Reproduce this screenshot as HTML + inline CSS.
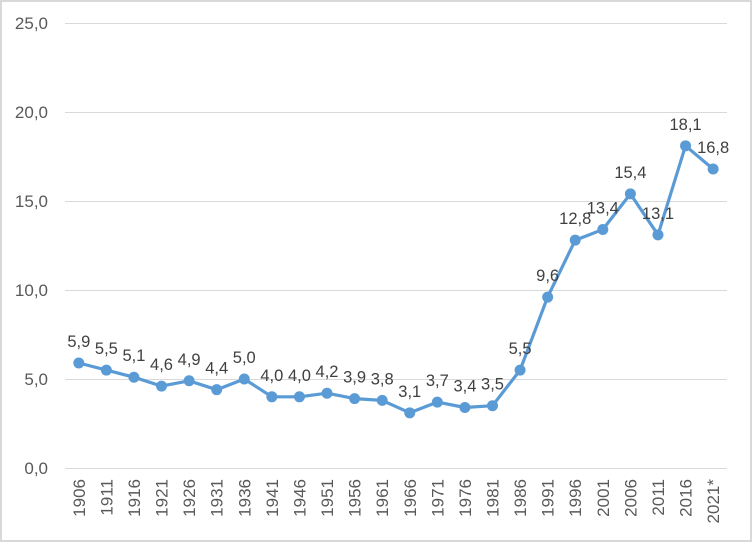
<!DOCTYPE html>
<html><head><meta charset="utf-8"><style>
body{margin:0;background:#fff}
svg{display:block;font-family:"Liberation Sans",sans-serif}
</style></head><body>
<svg width="752" height="542" viewBox="0 0 752 542">
<rect x="1" y="1" width="750" height="540" fill="#fff" stroke="#d9d9d9" stroke-width="2"/>
<g stroke="#d9d9d9" stroke-width="1">
<line x1="65" x2="727" y1="468.5" y2="468.5"/>
<line x1="65" x2="727" y1="379.5" y2="379.5"/>
<line x1="65" x2="727" y1="290.5" y2="290.5"/>
<line x1="65" x2="727" y1="201.5" y2="201.5"/>
<line x1="65" x2="727" y1="112.5" y2="112.5"/>
<line x1="65" x2="727" y1="23.5" y2="23.5"/>
</g>
<g fill="#595959" font-size="17" text-anchor="end">
<text x="48" y="474">0,0</text>
<text x="48" y="385">5,0</text>
<text x="48" y="296">10,0</text>
<text x="48" y="207">15,0</text>
<text x="48" y="118">20,0</text>
<text x="48" y="29">25,0</text>
</g>
<g id="c"></g>
</svg>
<script>
var yrs=["1906","1911","1916","1921","1926","1931","1936","1941","1946","1951","1956","1961","1966","1971","1976","1981","1986","1991","1996","2001","2006","2011","2016","2021*"];
var v=[5.9,5.5,5.1,4.6,4.9,4.4,5.0,4.0,4.0,4.2,3.9,3.8,3.1,3.7,3.4,3.5,5.5,9.6,12.8,13.4,15.4,13.1,18.1,16.8];
var g=document.getElementById("c"),s="",pts=[];
for(var i=0;i<24;i++){var x=65+27.58*(i+0.5),y=468-v[i]*17.8;pts.push(x.toFixed(1)+","+y.toFixed(1));}
s+='<polyline points="'+pts.join(" ")+'" fill="none" stroke="#5b9bd5" stroke-width="3.2" stroke-linejoin="round"/>';
for(var i=0;i<24;i++){var x=65+27.58*(i+0.5),y=468-v[i]*17.8;
s+='<circle cx="'+x+'" cy="'+y+'" r="5.5" fill="#5b9bd5"/>';
s+='<text x="'+x+'" y="'+(y-16)+'" font-size="16.5" fill="#404040" text-anchor="middle">'+v[i].toFixed(1).replace(".",",")+'</text>';
s+='<text transform="translate('+(x+6)+',479) rotate(-90)" font-size="17" fill="#595959" text-anchor="end">'+yrs[i]+'</text>';}
g.innerHTML=s;
</script>
</body></html>
